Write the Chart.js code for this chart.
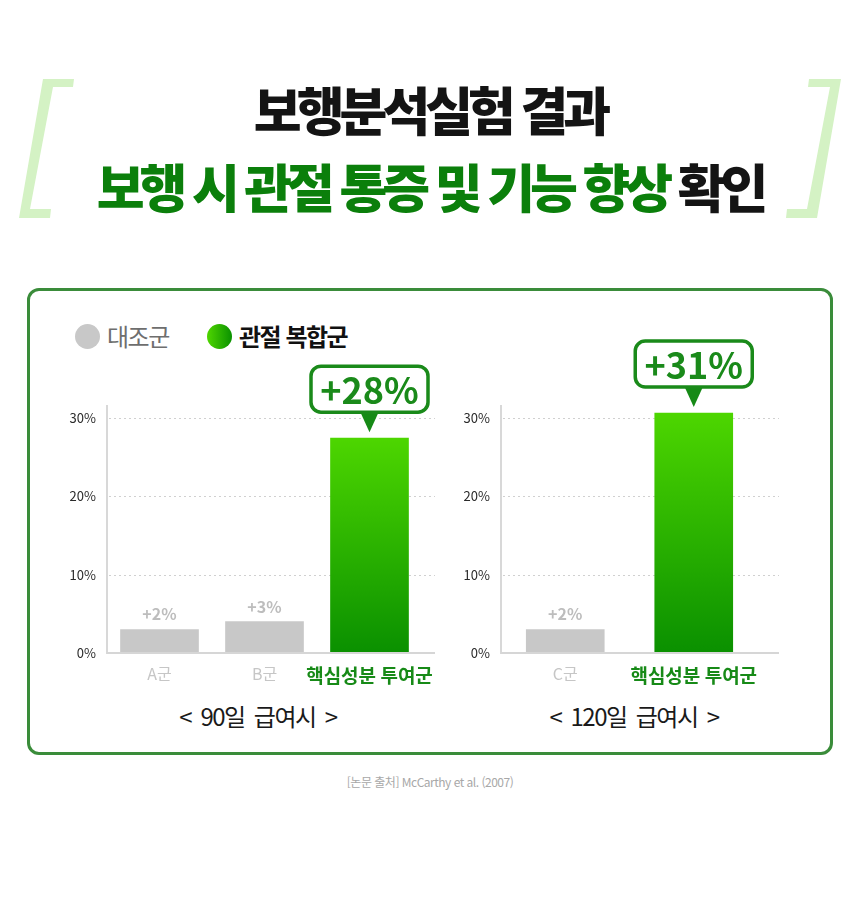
<!DOCTYPE html>
<html lang="ko">
<head>
<meta charset="utf-8">
<script src="https://cdn.jsdelivr.net/npm/chart.js@4.4.1/dist/chart.umd.min.js"></script>
<style>
  body { margin: 0; background: #fff; }
  #page { position: relative; width: 860px; height: 919px; background: #fff; overflow: hidden;
          font-family: "Noto Sans CJK KR", "Noto Sans", sans-serif; }
  .title { position: absolute; left: 0; width: 860px; text-align: center; font-size: 52px;
           line-height: 52px; font-weight: 900; letter-spacing: -5px; color: #141414; white-space: nowrap; }
  .title .g { color: #0b7f0b; }
  .box { position: absolute; left: 27px; top: 288px; width: 800px; height: 461px;
         border: 3px solid #3a8c3a; border-radius: 12px; }
  .leg { position: absolute; top: 321px; height: 30px; line-height: 30px; font-size: 24px; letter-spacing: -1.5px; white-space: nowrap; }
  .dot { position: absolute; top: 324px; width: 25px; height: 25px; border-radius: 50%; }
  .cw { position: absolute; }
  .cap { position: absolute; top: 701px; width: 240px; text-align: center; font-size: 24px; line-height: 30px;
         color: #1a1a1a; letter-spacing: -1.5px; word-spacing: 4px; white-space: nowrap; }
  .src { position: absolute; top: 773px; left: 0; width: 860px; text-align: center; font-size: 12px;
         color: #a8a8a8; letter-spacing: -0.5px; }
</style>
</head>
<body>
<div id="page">
  <svg width="860" height="240" style="position:absolute;left:0;top:0">
    <polygon points="43,79 74,79 73,87 53,87 30,209 51,209 50,218 19,218" fill="#d4f2c4"/>
    <polygon points="809,79 841,79 817,218 786,218 787,209 807,209 830,87 808,87" fill="#d4f2c4"/>
  </svg>
  <div class="title" style="top:83px">보행분석실험 결과</div>
  <div class="title" style="top:160px"><span class="g">보행 시 관절 통증 및 기능 향상</span> 확인</div>

  <div class="box"></div>

  <div class="dot" style="left:75px;background:#c8c8c8"></div>
  <div class="leg" style="left:107px;color:#6e6e6e">대조군</div>
  <div class="dot" style="left:207px;background:linear-gradient(90deg,#4fd600,#0a9100)"></div>
  <div class="leg" style="left:239px;color:#111;font-weight:700">관절 복합군</div>

  <div class="cw" style="left:55px;top:330px"><canvas id="chartLeft" width="395" height="360"></canvas></div>
  <div class="cw" style="left:455px;top:330px"><canvas id="chartRight" width="345" height="360"></canvas></div>

  <div class="cap" style="left:138px">&lt; 90일 급여시 &gt;</div>
  <div class="cap" style="left:514px">&lt; 120일 급여시 &gt;</div>

  <div class="src">[논문 출처] McCarthy et al. (2007)</div>
</div>

<script>
// 90일 급여시
const leftCategories = ["A군", "B군", "핵심성분 투여군"];
const leftValues = [3, 4, 27.4];          // bar heights as drawn
const leftLabels = ["+2%", "+3%", "+28%"];

// 120일 급여시
const rightCategories = ["C군", "핵심성분 투여군"];
const rightValues = [3, 30.6];
const rightLabels = ["+2%", "+31%"];

const yMax = 31.5;
const yStep = 10;

Chart.defaults.font.family = "'Noto Sans CJK KR', 'Noto Sans', sans-serif";

// dotted grid + baseline, a bit longer than the chart area
const gridPlugin = {
  id: "extGrid",
  beforeDatasetsDraw(chart, args, opts) {
    const { ctx, chartArea } = chart;
    const y = chart.scales.y;
    ctx.save();
    ctx.strokeStyle = "#d0d0d0";
    ctx.lineWidth = 1;
    ctx.setLineDash([2, 3]);
    y.ticks.forEach((t) => {
      if (t.value <= 0) return;
      const py = Math.round(y.getPixelForValue(t.value)) + 0.5;
      ctx.beginPath();
      ctx.moveTo(chartArea.left + 2, py);
      ctx.lineTo(chartArea.right + opts.extend, py);
      ctx.stroke();
    });
    ctx.restore();
  },
  afterDatasetsDraw(chart, args, opts) {
    const { ctx, chartArea } = chart;
    const y0 = chart.scales.y.getPixelForValue(0);
    ctx.save();
    ctx.strokeStyle = "#d6d6d6";
    ctx.lineWidth = 2;
    ctx.beginPath();
    ctx.moveTo(chartArea.left, y0);
    ctx.lineTo(chartArea.right + opts.extend, y0);
    ctx.stroke();
    ctx.restore();
  },
};

// value labels: grey text for normal bars, speech bubble for the highlighted one
const labelPlugin = {
  id: "valueLabels",
  afterDatasetsDraw(chart, args, opts) {
    const { ctx } = chart;
    const bars = chart.getDatasetMeta(0).data;
    bars.forEach((bar, i) => {
      const text = opts.labels[i];
      ctx.save();
      if (i !== opts.highlight) {
        ctx.fillStyle = "#bdbdbd";
        ctx.font = "bold 16px 'Noto Sans CJK KR', sans-serif";
        ctx.textAlign = "center";
        ctx.textBaseline = "alphabetic";
        ctx.fillText(text, bar.x, bar.y - 9);
      } else {
        const tipY = bar.y - 6;
        const baseY = tipY - 20;
        const w = 117, h = 46, r = 10;
        const left = bar.x - w / 2, top = baseY - h;
        // pointer
        ctx.fillStyle = "#168a16";
        ctx.beginPath();
        ctx.moveTo(bar.x - 10, baseY - 2);
        ctx.lineTo(bar.x + 10, baseY - 2);
        ctx.lineTo(bar.x, tipY);
        ctx.closePath();
        ctx.fill();
        // box
        ctx.beginPath();
        ctx.roundRect(left, top, w, h, r);
        ctx.fillStyle = "#fff";
        ctx.fill();
        ctx.lineWidth = 3.5;
        ctx.strokeStyle = "#1a8a1a";
        ctx.stroke();
        ctx.fillStyle = "#1a8a1a";
        ctx.font = "bold 36px 'Noto Sans CJK KR', sans-serif";
        ctx.textAlign = "center";
        ctx.textBaseline = "middle";
        ctx.fillText(text, bar.x, top + h / 2 + 1);
      }
      ctx.restore();
    });
  },
};

function makeChart(id, categories, values, labels, highlight, axisWidth, padRight, extend) {
  const greenBar = (c) => {
    if (c.dataIndex !== highlight) return "#c8c8c8";
    const chart = c.chart;
    if (!chart.chartArea) return "#2cb400";
    const y = chart.scales.y;
    const g = chart.ctx.createLinearGradient(0, y.getPixelForValue(values[highlight]), 0, y.getPixelForValue(0));
    g.addColorStop(0, "#4dd600");
    g.addColorStop(1, "#0a9000");
    return g;
  };
  return new Chart(document.getElementById(id), {
    type: "bar",
    data: {
      labels: categories,
      datasets: [{ data: values, backgroundColor: greenBar, barThickness: 78, borderWidth: 0 }],
    },
    options: {
      responsive: false,
      animation: false,
      layout: { padding: { top: 76, right: padRight, left: 0, bottom: 0 } },
      plugins: {
        legend: { display: false },
        tooltip: { enabled: false },
        extGrid: { extend: extend },
        valueLabels: { labels: labels, highlight: highlight },
      },
      scales: {
        x: {
          grid: { display: false },
          border: { display: false },
          afterFit: (s) => { s.height = 37; },
          ticks: {
            padding: 3,
            minRotation: 0,
            maxRotation: 0,
            autoSkip: false,
            color: (c) => (c.index === highlight ? "#178a17" : "#c6c6c6"),
            font: (c) => (c.index === highlight ? { size: 19, weight: "bold" } : { size: 16 }),
          },
        },
        y: {
          min: 0,
          max: yMax,
          grid: { display: false },
          border: { display: true, color: "#d8d8d8", width: 2 },
          afterFit: (s) => { s.width = axisWidth; },
          ticks: {
            stepSize: yStep,
            includeBounds: false,
            padding: 3,
            color: "#2a2a2a",
            font: { size: 13 },
            callback: (v) => v + "%",
          },
        },
      },
    },
    plugins: [gridPlugin, labelPlugin],
  });
}

makeChart("chartLeft", leftCategories, leftValues, leftLabels, 2, 52, 28, 13);
makeChart("chartRight", rightCategories, rightValues, rightLabels, 1, 46, 42, 21);
</script>
</body>
</html>
